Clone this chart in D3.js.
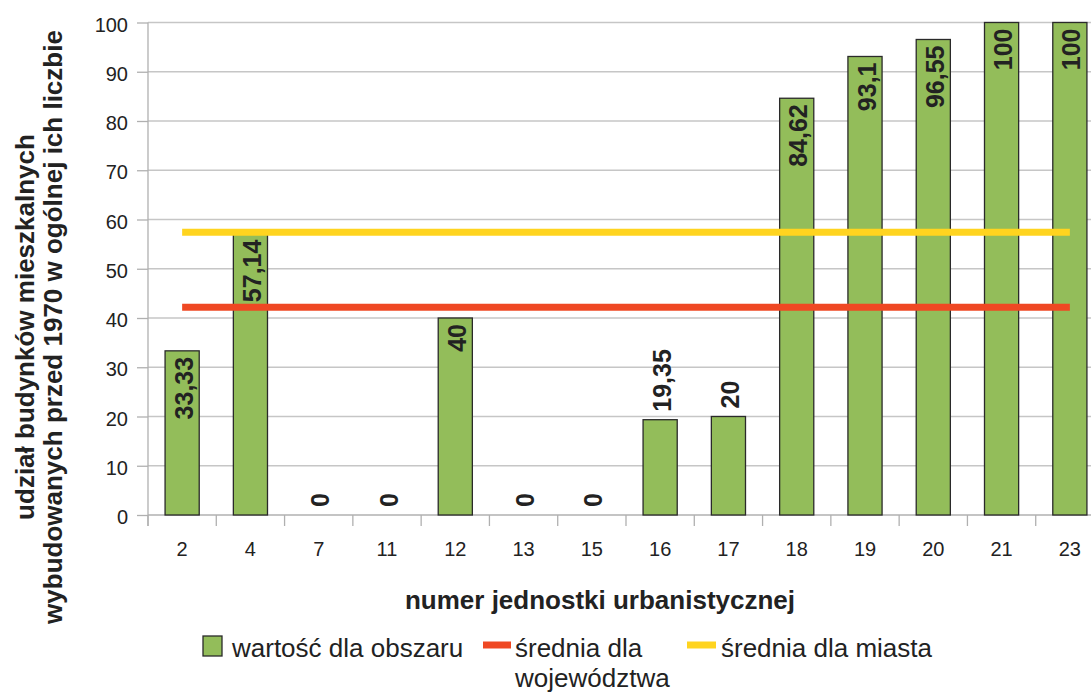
<!DOCTYPE html>
<html>
<head>
<meta charset="utf-8">
<script src="https://cdn.jsdelivr.net/npm/d3@7"></script>
<style>
  html, body { margin: 0; padding: 0; background: #fff; }
  svg { display: block; font-family: "Liberation Sans", Arial, sans-serif; }
</style>
</head>
<body>
<svg id="chart" width="1091" height="692"></svg>
<script>
// ---- data ----
const categories = ["2", "4", "7", "11", "12", "13", "15", "16", "17", "18", "19", "20", "21", "23"];
const values = [33.33, 57.14, 0, 0, 40, 0, 0, 19.35, 20, 84.62, 93.1, 96.55, 100, 100];
const sredniaWojewodztwa = [42.2, 42.2, 42.2, 42.2, 42.2, 42.2, 42.2, 42.2, 42.2, 42.2, 42.2, 42.2, 42.2, 42.2];
const sredniaMiasta = [57.4, 57.4, 57.4, 57.4, 57.4, 57.4, 57.4, 57.4, 57.4, 57.4, 57.4, 57.4, 57.4, 57.4];
const yTicks = [0, 10, 20, 30, 40, 50, 60, 70, 80, 90, 100];
const legendLabels = ["wartość dla obszaru", ["średnia dla", "województwa"], "średnia dla miasta"];
const xTitle = "numer jednostki urbanistycznej";
const yTitle = ["udział budynków mieszkalnych", "wybudowanych przed 1970 w ogólnej ich liczbie"];

(function () {
// ---- layout ----
const svg = d3.select("#chart");
const pLeft = 148, pRight = 1104, pTop = 22.5, pBottom = 515;
const green = "#93bd5a", red = "#ef4823", yellow = "#ffd41f";

const x = d3.scaleBand().domain(categories).range([pLeft, pRight]).paddingInner(0.5).paddingOuter(0.25);
const y = d3.scaleLinear().domain([0, 100]).range([pBottom, pTop]);

// gridlines
svg.append("g").selectAll("line").data(yTicks.filter(d => d > 0)).join("line")
  .attr("x1", pLeft).attr("x2", 1091)
  .attr("y1", d => y(d)).attr("y2", d => y(d))
  .attr("stroke", "#c6c6c6").attr("stroke-width", 1.3);

// y axis
const yAxis = d3.axisLeft(y).tickValues(yTicks).tickSize(11).tickPadding(9);
const gy = svg.append("g").attr("transform", `translate(${pLeft},0)`).call(yAxis);
gy.select(".domain").attr("stroke", "#b0b0b0").attr("stroke-width", 1.3).attr("d", `M0,${pTop}V${pBottom + 11}`);
gy.selectAll(".tick line").attr("stroke", "#b0b0b0").attr("stroke-width", 1.3);
gy.selectAll(".tick text").attr("font-size", 20).attr("fill", "#222").attr("dy", null).attr("y", 8.5)
  .style("font-family", "'Liberation Sans', Arial, sans-serif");

// x axis line
svg.append("line").attr("x1", pLeft).attr("x2", 1091).attr("y1", pBottom).attr("y2", pBottom)
  .attr("stroke", "#b0b0b0").attr("stroke-width", 1.3);
// x tick marks at band boundaries
svg.append("g").selectAll("line").data(categories).join("line")
  .attr("x1", d => x(d) - x.bandwidth() / 2).attr("x2", d => x(d) - x.bandwidth() / 2)
  .attr("y1", pBottom).attr("y2", pBottom + 11)
  .attr("stroke", "#b0b0b0").attr("stroke-width", 1.3);
// x tick labels
svg.append("g").selectAll("text").data(categories).join("text")
  .attr("x", d => x(d) + x.bandwidth() / 2).attr("y", 556)
  .attr("text-anchor", "middle").attr("font-size", 20).attr("fill", "#222")
  .text(d => d);

// bars
svg.append("g").selectAll("rect").data(values).join("rect")
  .attr("x", (d, i) => x(categories[i]))
  .attr("y", d => y(d))
  .attr("width", x.bandwidth())
  .attr("height", d => y(0) - y(d))
  .attr("fill", green).attr("stroke", "#2a2a2a").attr("stroke-width", 1.3);

// average lines
const line = d3.line().x((d, i) => x(categories[i]) + x.bandwidth() / 2).y(d => y(d));
svg.append("path").datum(sredniaWojewodztwa).attr("d", line)
  .attr("fill", "none").attr("stroke", red).attr("stroke-width", 7);
svg.append("path").datum(sredniaMiasta).attr("d", line)
  .attr("fill", "none").attr("stroke", yellow).attr("stroke-width", 7);

// data labels
const fmt = v => String(v).replace(".", ",");
svg.append("g").selectAll("text").data(values).join("text")
  .attr("transform", (d, i) => {
    const cx = x(categories[i]) + x.bandwidth() / 2 + 1.5;
    const inside = d > 25;
    const yy = inside ? y(d) + 6 : y(d) - 8;
    return `translate(${cx},${yy}) rotate(-90)`;
  })
  .attr("text-anchor", d => d > 25 ? "end" : "start")
  .attr("dominant-baseline", "central")
  .attr("font-size", 25).attr("font-weight", "bold").attr("fill", "#222")
  .text(d => fmt(d));

// axis titles
svg.append("text").attr("x", 600).attr("y", 609).attr("text-anchor", "middle")
  .attr("font-size", 26).attr("font-weight", "bold").attr("fill", "#222").text(xTitle);
const yt = svg.append("text").attr("transform", "translate(0,327) rotate(-90)")
  .attr("text-anchor", "middle").attr("font-size", 26).attr("font-weight", "bold").attr("fill", "#222");
yt.append("tspan").attr("x", 0).attr("y", 34).text(yTitle[0]);
yt.append("tspan").attr("x", 0).attr("y", 62).text(yTitle[1]);

// legend
const lg = svg.append("g");
lg.append("rect").attr("x", 203).attr("y", 636).attr("width", 19).attr("height", 20)
  .attr("fill", green).attr("stroke", "#2a2a2a").attr("stroke-width", 1.3);
lg.append("text").attr("x", 232).attr("y", 657).attr("font-size", 26).attr("fill", "#222").text(legendLabels[0]);
lg.append("line").attr("x1", 483).attr("x2", 511).attr("y1", 645).attr("y2", 645)
  .attr("stroke", red).attr("stroke-width", 7);
lg.append("text").attr("x", 515).attr("y", 657).attr("font-size", 26).attr("fill", "#222").text(legendLabels[1][0]);
lg.append("text").attr("x", 515).attr("y", 686.5).attr("font-size", 26).attr("fill", "#222").text(legendLabels[1][1]);
lg.append("line").attr("x1", 687).attr("x2", 716).attr("y1", 645).attr("y2", 645)
  .attr("stroke", yellow).attr("stroke-width", 7);
lg.append("text").attr("x", 721).attr("y", 657).attr("font-size", 26).attr("fill", "#222").text(legendLabels[2]);
})();
</script>
</body>
</html>
